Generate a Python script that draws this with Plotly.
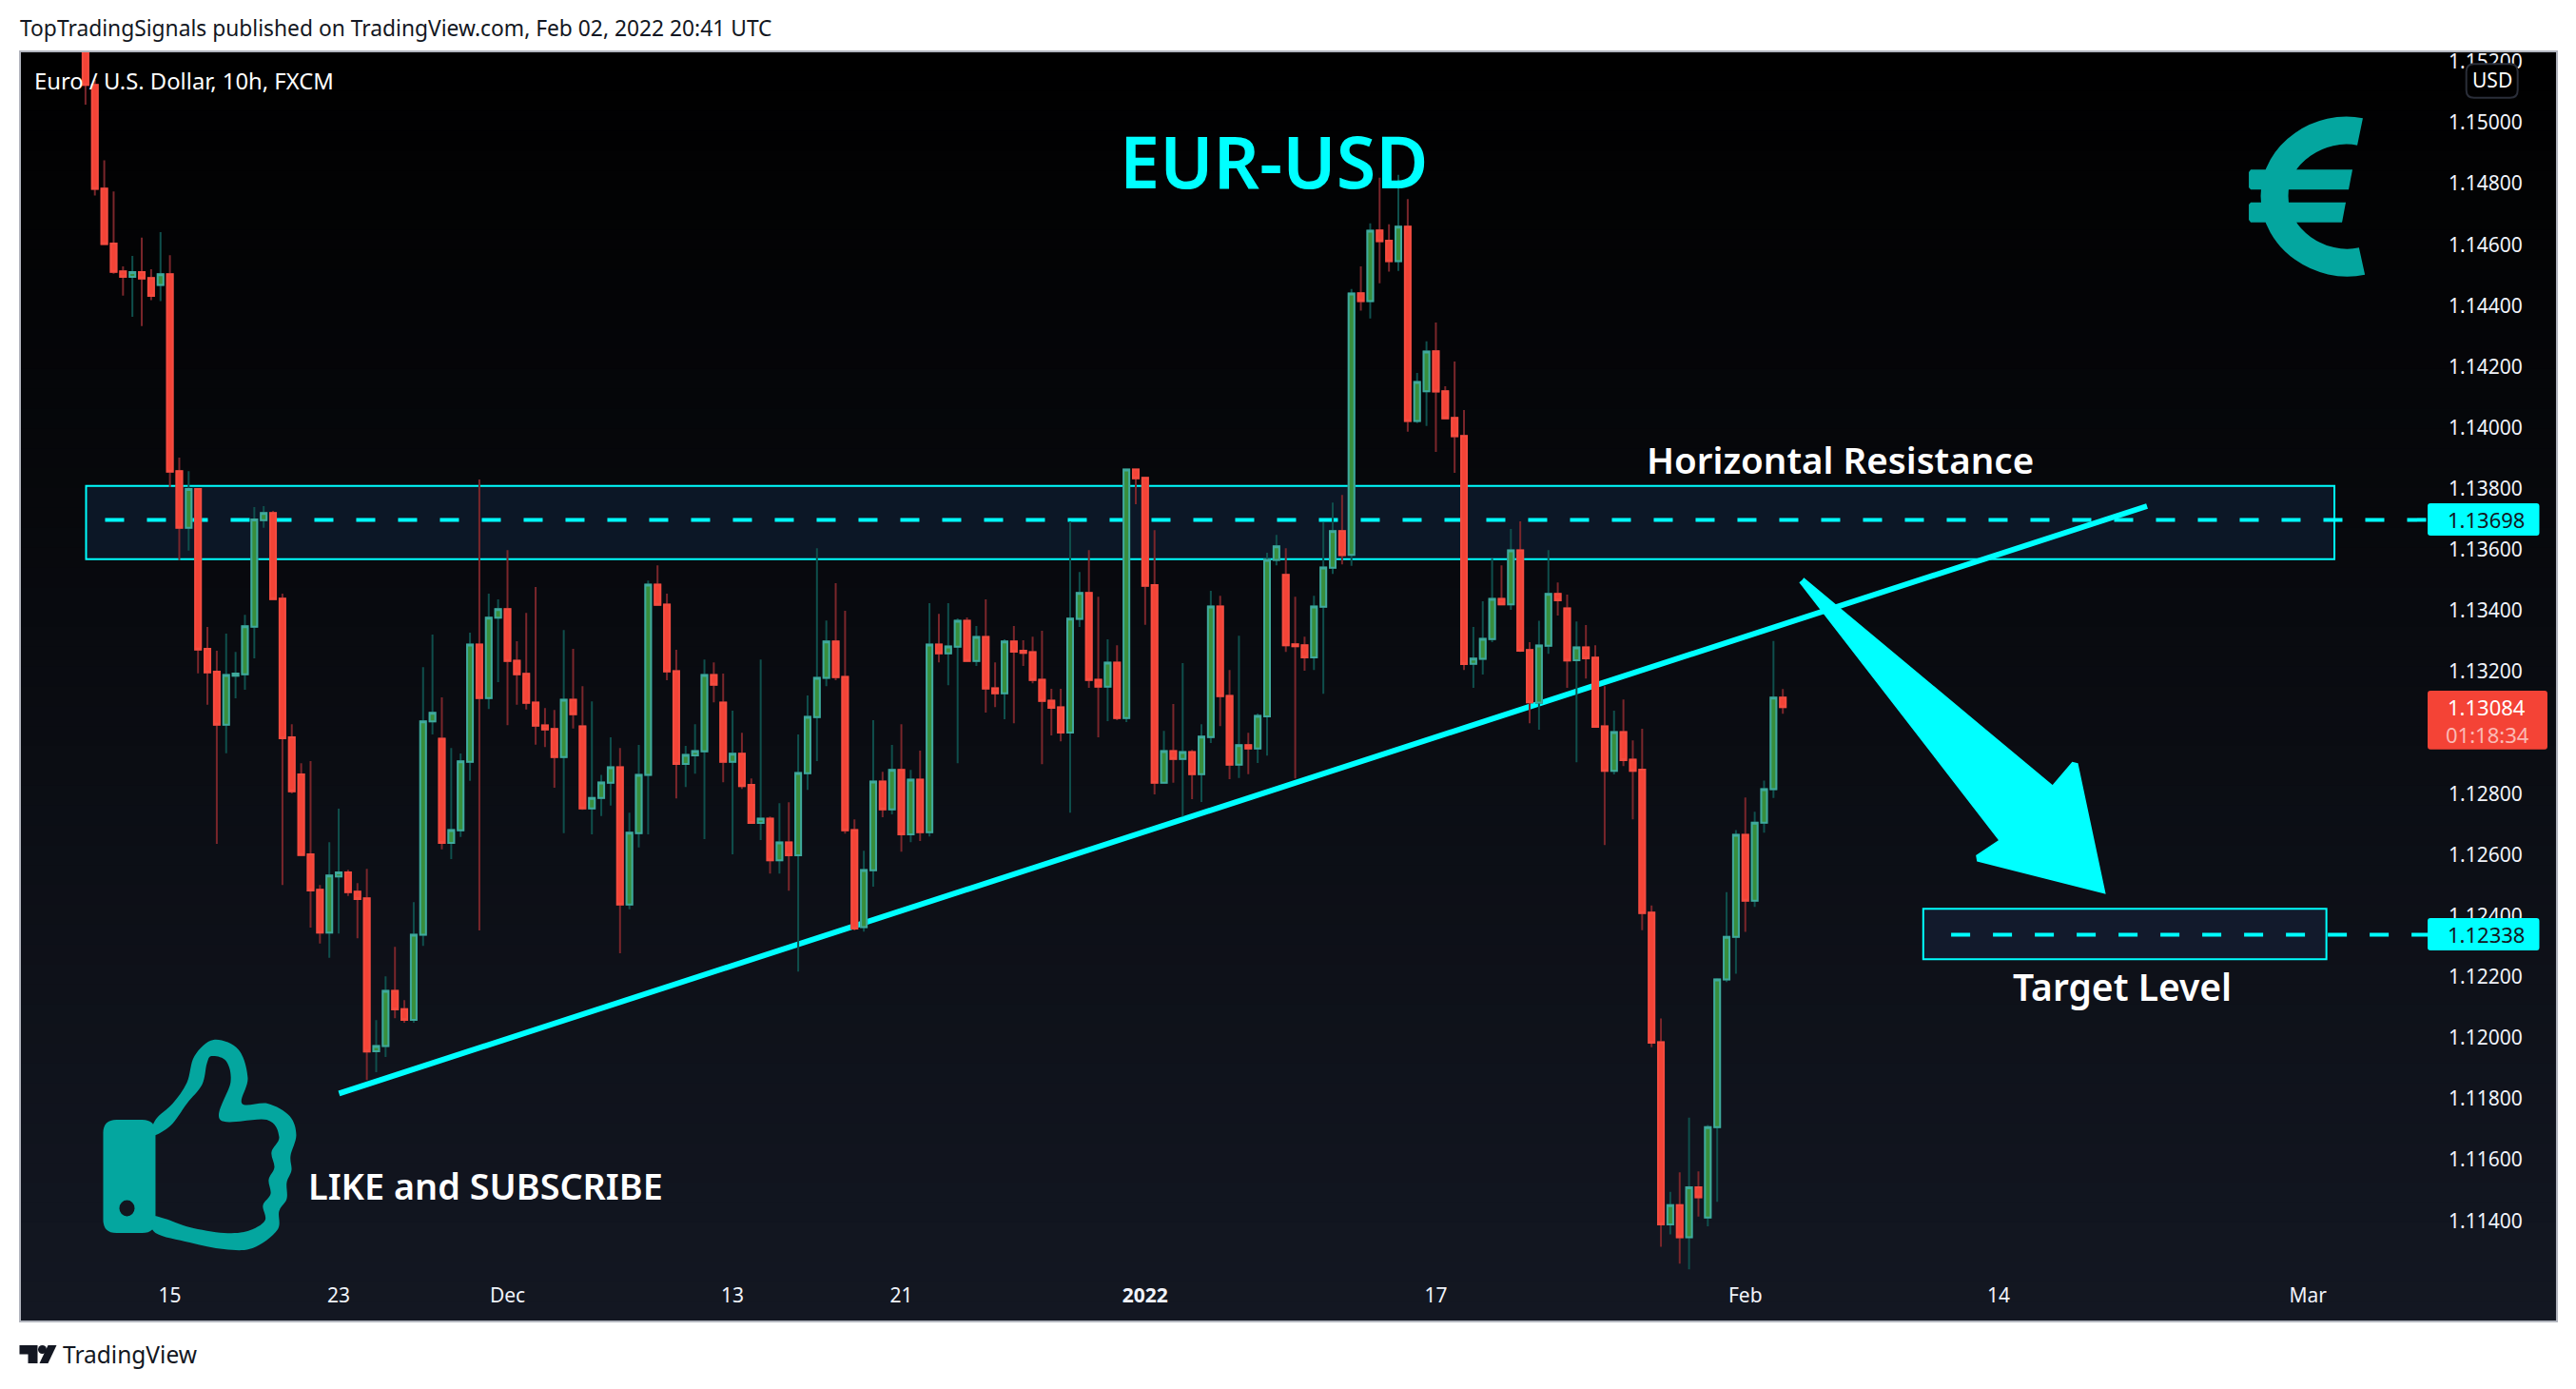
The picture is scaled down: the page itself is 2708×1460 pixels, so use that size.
import plotly.graph_objects as go

# ---- data ----
bar_open = [
1.15350,1.15124,1.14784,1.14604,1.14513,1.14495,1.14510,1.14491,1.14468,1.14503,
1.13858,1.13672,1.13799,1.13275,1.13200,1.13026,1.13187,1.13192,1.13348,1.13697,
1.13720,1.13440,1.12985,1.12863,1.12601,1.12485,1.12345,1.12529,1.12542,1.12479,
1.12457,1.11956,1.11973,1.12154,1.12094,1.12059,1.12338,1.13037,1.12980,1.12639,
1.12680,1.12905,1.13289,1.13114,1.13377,1.13405,1.13236,1.13193,1.13099,1.13024,
1.13012,1.12920,1.13108,1.13021,1.12752,1.12786,1.12836,1.12887,1.12437,1.12671,
1.12862,1.13486,1.13420,1.13202,1.12898,1.12926,1.12939,1.13189,1.13099,1.12905,
1.12931,1.12829,1.12704,1.12718,1.12582,1.12640,1.12598,1.12867,1.13051,1.13180,
1.13299,1.13183,1.12681,1.12363,1.12549,1.12840,1.12749,1.12878,1.12667,1.12846,
1.12674,1.13289,1.13260,1.13282,1.13367,1.13235,1.13314,1.13146,1.13129,1.13299,
1.13269,1.13264,1.13174,1.13105,1.13083,1.13001,1.13373,1.13458,1.13174,1.13151,
1.13230,1.13048,1.13863,1.13836,1.13484,1.12836,1.12940,1.12914,1.12937,1.12864,
1.12986,1.13414,1.13121,1.12895,1.12959,1.12948,1.13054,1.13567,1.13518,1.13290,
1.13287,1.13247,1.13413,1.13541,1.13661,1.13583,1.14441,1.14415,1.14647,1.14613,
1.14546,1.14659,1.14022,1.14120,1.14251,1.14120,1.14032,1.13973,1.13226,1.13242,
1.13307,1.13439,1.13421,1.13598,1.13271,1.13099,1.13285,1.13455,1.13408,1.13238,
1.13280,1.13246,1.13021,1.12875,1.13002,1.12912,1.12879,1.12410,1.11985,1.11388,
1.11451,1.11346,1.11510,1.11411,1.11707,1.12191,1.12331,1.12665,1.12449,1.12705,
1.12815,1.13115]
bar_close = [
1.15124,1.14783,1.14602,1.14511,1.14495,1.14510,1.14489,1.14432,1.14503,1.13856,
1.13672,1.13799,1.13273,1.13198,1.13026,1.13189,1.13194,1.13349,1.13699,1.13720,
1.13438,1.12982,1.12808,1.12599,1.12483,1.12345,1.12532,1.12542,1.12477,1.12455,
1.11955,1.11973,1.12154,1.12093,1.12059,1.12338,1.13037,1.13065,1.12639,1.12681,
1.12906,1.13289,1.13114,1.13377,1.13405,1.13235,1.13192,1.13098,1.13023,1.13011,
1.12920,1.13108,1.13061,1.12752,1.12786,1.12837,1.12887,1.12437,1.12672,1.12862,
1.13486,1.13419,1.13201,1.12898,1.12927,1.12940,1.13189,1.13157,1.12905,1.12931,
1.12825,1.12704,1.12718,1.12582,1.12640,1.12598,1.12868,1.13052,1.13180,1.13299,
1.13182,1.12680,1.12358,1.12550,1.12840,1.12749,1.12878,1.12667,1.12846,1.12674,
1.13289,1.13260,1.13283,1.13367,1.13235,1.13314,1.13145,1.13129,1.13299,1.13266,
1.13262,1.13173,1.13104,1.13082,1.13001,1.13374,1.13458,1.13173,1.13151,1.13230,
1.13048,1.13863,1.13834,1.13482,1.12836,1.12940,1.12914,1.12937,1.12864,1.12987,
1.13414,1.13120,1.12895,1.12959,1.12948,1.13055,1.13567,1.13611,1.13287,1.13284,
1.13247,1.13414,1.13542,1.13661,1.13582,1.14440,1.14415,1.14646,1.14612,1.14546,
1.14659,1.14022,1.14150,1.14250,1.14119,1.14031,1.13972,1.13225,1.13243,1.13308,
1.13439,1.13421,1.13598,1.13269,1.13100,1.13286,1.13455,1.13434,1.13237,1.13280,
1.13244,1.13019,1.12875,1.13002,1.12910,1.12875,1.12409,1.11984,1.11388,1.11451,
1.11346,1.11510,1.11477,1.11707,1.12191,1.12331,1.12665,1.12449,1.12705,1.12815,
1.13115,1.13084]
bar_high = [
1.15400,1.15140,1.14877,1.14775,1.14529,1.14563,1.14623,1.14520,1.14641,1.14566,
1.13902,1.13858,1.13801,1.13347,1.13269,1.13325,1.13265,1.13387,1.13740,1.13743,
1.13727,1.13456,1.13028,1.12900,1.12907,1.12501,1.12641,1.12751,1.12551,1.12507,
1.12554,1.12058,1.12201,1.12298,1.12123,1.12445,1.13215,1.13322,1.13116,1.12950,
1.12932,1.13328,1.13830,1.13456,1.13437,1.13599,1.13300,1.13393,1.13478,1.13081,
1.13075,1.13337,1.13275,1.13153,1.13103,1.12862,1.12985,1.12950,1.12738,1.12960,
1.13499,1.13549,1.13456,1.13272,1.12957,1.13028,1.13240,1.13231,1.13194,1.13072,
1.13000,1.12850,1.13240,1.12725,1.12769,1.12772,1.12994,1.13122,1.13605,1.13368,
1.13490,1.13400,1.12716,1.12613,1.13041,1.12872,1.12960,1.13028,1.12878,1.12941,
1.13425,1.13390,1.13425,1.13375,1.13378,1.13350,1.13437,1.13231,1.13306,1.13350,
1.13303,1.13315,1.13334,1.13144,1.13144,1.13693,1.13527,1.13599,1.13446,1.13306,
1.13287,1.13863,1.13863,1.13836,1.13664,1.13006,1.13094,1.13228,1.12944,1.13028,
1.13465,1.13449,1.13206,1.13318,1.13000,1.13063,1.13590,1.13649,1.13605,1.13446,
1.13315,1.13449,1.13690,1.13755,1.13780,1.14455,1.14529,1.14670,1.14820,1.14667,
1.14829,1.14750,1.14180,1.14283,1.14345,1.14136,1.14217,1.14058,1.13347,1.13431,
1.13571,1.13549,1.13668,1.13693,1.13297,1.13367,1.13599,1.13493,1.13453,1.13365,
1.13353,1.13287,1.13153,1.13072,1.13109,1.12975,1.13013,1.12434,1.12063,1.11495,
1.11559,1.11738,1.11562,1.11714,1.12195,1.12477,1.12681,1.12788,1.12741,1.12843,
1.13301,1.13143]
bar_low = [
1.15059,1.14761,1.14602,1.14505,1.14433,1.14364,1.14333,1.14418,1.14415,1.13805,
1.13566,1.13597,1.13195,1.13092,1.12636,1.12933,1.13113,1.13141,1.13244,1.13672,
1.13438,1.12501,1.12801,1.12599,1.12361,1.12309,1.12262,1.12342,1.12465,1.12326,
1.11861,1.11887,1.11937,1.12064,1.12049,1.12049,1.12301,1.12994,1.12618,1.12586,
1.12658,1.12842,1.12352,1.13078,1.13166,1.13025,1.13092,1.13076,1.12961,1.12953,
1.12820,1.12671,1.13014,1.12747,1.12667,1.12727,1.12761,1.12277,1.12421,1.12624,
1.12667,1.13416,1.13172,1.12785,1.12822,1.12866,1.12651,1.13100,1.12838,1.12601,
1.12816,1.12704,1.12648,1.12538,1.12538,1.12482,1.12217,1.12813,1.12907,1.13153,
1.13172,1.12669,1.12352,1.12348,1.12495,1.12723,1.12732,1.12610,1.12641,1.12645,
1.12660,1.13231,1.13156,1.12900,1.13235,1.13219,1.13066,1.13084,1.13044,1.13031,
1.13219,1.13162,1.12897,1.12991,1.12972,1.12738,1.13347,1.13147,1.12985,1.13038,
1.13041,1.13035,1.13749,1.13354,1.12798,1.12836,1.12836,1.12725,1.12782,1.12773,
1.12966,1.13022,1.12848,1.12852,1.12864,1.12901,1.12925,1.13549,1.13265,1.12850,
1.13203,1.13206,1.13128,1.13521,1.13552,1.13547,1.14384,1.14358,1.14474,1.14512,
1.14514,1.13987,1.14015,1.14006,1.13921,1.14031,1.13852,1.13206,1.13147,1.13191,
1.13297,1.13418,1.13403,1.13265,1.13031,1.13010,1.13259,1.13384,1.13147,1.12903,
1.13178,1.13016,1.12632,1.12863,1.12891,1.12716,1.12353,1.11969,1.11315,1.11355,
1.11259,1.11241,1.11414,1.11382,1.11462,1.12183,1.12210,1.12347,1.12429,1.12672,
1.12786,1.13062]
bar_index = list(range(len(bar_open)))

x_tick_index = [9, 27, 45, 69, 87, 113, 144, 177, 204, 237]
x_tick_text = ["15", "23", "Dec", "13", "21", "<b>2022</b>", "17", "Feb", "14", "Mar"]
y_tick_values = [1.114, 1.116, 1.118, 1.120, 1.122, 1.124, 1.126, 1.128, 1.132,
                 1.134, 1.136, 1.138, 1.140, 1.142, 1.144, 1.146, 1.148, 1.150, 1.152]
resistance_level = 1.13698
target_level = 1.12338
last_price = 1.13084

# ---- geometry of the page (pixels) ----
W, H = 2708, 1460
L, R, T, B = 20.5, 2552.0, 54.0, 1340.0
PL, PR, PT, PB = 20.5, 2688.0, 54.0, 1389.0
FONT = "Noto Sans"
CYAN = "#00ffff"
TEAL = "#04a69f"


def ix(x):
    return (x - 89.4) / 9.86


def py(y):
    return 1.15 - (y - 129) / 32060


def fx(x):
    return (x - L) / (R - L)


def fy(y):
    return (B - y) / (B - T)


def pt(x, y):
    return f"{fx(x):.5f},{fy(y):.5f}"


def poly(points):
    return "M" + " L".join(pt(x, y) for x, y in points) + " Z"


def round_rect(x0, y0, x1, y1, r):
    return (f"M{pt(x0 + r, y0)} L{pt(x1 - r, y0)} Q{pt(x1, y0)} {pt(x1, y0 + r)} "
            f"L{pt(x1, y1 - r)} Q{pt(x1, y1)} {pt(x1 - r, y1)} L{pt(x0 + r, y1)} "
            f"Q{pt(x0, y1)} {pt(x0, y1 - r)} L{pt(x0, y0 + r)} Q{pt(x0, y0)} {pt(x0 + r, y0)} Z")


def smooth(points):
    n = len(points)
    s = "M" + pt(*points[0])
    for i in range(n):
        p0, p1, p2, p3 = points[i - 1], points[i], points[(i + 1) % n], points[(i + 2) % n]
        c1 = (p1[0] + (p2[0] - p0[0]) / 6, p1[1] + (p2[1] - p0[1]) / 6)
        c2 = (p2[0] - (p3[0] - p1[0]) / 6, p2[1] - (p3[1] - p1[1]) / 6)
        s += f" C{pt(*c1)} {pt(*c2)} {pt(*p2)}"
    return s + " Z"


shapes = []


def paper_shape(path, fill="rgba(0,0,0,0)", line=None, width=0, layer="above"):
    shapes.append(dict(type="path", path=path, xref="paper", yref="paper", layer=layer,
                       fillcolor=fill, line=dict(color=line or "rgba(0,0,0,0)", width=width)))


# panel gradient
bands = 64
for k in range(bands):
    t = k / (bands - 1)
    col = f"rgb({round(19 * t)},{round(23 * t)},{round(34 * t)})"
    y0 = PT + (PB - PT) * k / bands
    y1 = PT + (PB - PT) * (k + 1) / bands + 1
    shapes.append(dict(type="rect", xref="paper", yref="paper", layer="below",
                       x0=fx(PL), x1=fx(PR), y0=fy(min(y1, PB)), y1=fy(y0),
                       fillcolor=col, line=dict(width=0)))

# drawings under the candles
shapes.append(dict(type="rect", xref="x", yref="y", layer="below",
                   x0=ix(90), x1=ix(2454), y0=py(587.7), y1=py(510.7),
                   fillcolor="#0c1726", line=dict(color=CYAN, width=2)))
shapes.append(dict(type="line", xref="x", yref="y", layer="below",
                   x0=ix(110), x1=ix(R), y0=resistance_level, y1=resistance_level,
                   line=dict(color=CYAN, width=4, dash="20px,24px")))
shapes.append(dict(type="rect", xref="x", yref="y", layer="below",
                   x0=ix(2021.7), x1=ix(2445.6), y0=py(1008.3), y1=py(955.3),
                   fillcolor="#121a2c", line=dict(color=CYAN, width=2)))
shapes.append(dict(type="line", xref="x", yref="y", layer="below",
                   x0=ix(2051), x1=ix(R), y0=target_level, y1=target_level,
                   line=dict(color=CYAN, width=4, dash="20px,24px")))
shapes.append(dict(type="line", xref="x", yref="y", layer="below",
                   x0=ix(356), x1=ix(2257), y0=py(1149.3), y1=py(532),
                   line=dict(color=CYAN, width=6)))

# euro icon
paper_shape(f"M{pt(2481, 138.5)} C{pt(2440, 130)} {pt(2391, 160)} {pt(2391, 206)} "
            f"C{pt(2391, 252)} {pt(2440, 284)} {pt(2483, 274.5)}", line=TEAL, width=29)
paper_shape(poly([(2366, 178.3), (2473, 178.3), (2469, 199.3), (2366, 199.3), (2364, 197), (2364, 181)]), fill=TEAL)
paper_shape(poly([(2366, 212.7), (2466, 212.7), (2462, 233.7), (2366, 233.7), (2364, 231), (2364, 215)]), fill=TEAL)

# thumb icon
thumb = [(163, 1177), (181, 1160), (196, 1138), (204, 1110), (224, 1093), (250, 1103), (260, 1133),
         (254, 1160), (281, 1160), (304, 1173), (311, 1193), (305, 1215), (306, 1230), (301, 1243),
         (301, 1260), (293, 1273), (291, 1293), (265, 1312), (235, 1313), (199, 1306), (163, 1296),
         (159, 1279), (173, 1281), (199, 1290), (235, 1296), (260, 1294), (278, 1283), (276, 1267),
         (284, 1255), (282, 1240), (288, 1227), (285, 1211), (293, 1195), (280, 1177), (231, 1177),
         (242, 1137), (237, 1115), (222, 1110), (217, 1118), (212, 1140), (196, 1160), (179, 1183),
         (159, 1194)]
paper_shape(smooth(thumb), fill=TEAL)
paper_shape(round_rect(108, 1177, 163, 1296, 14), fill=TEAL)
shapes.append(dict(type="circle", xref="paper", yref="paper", layer="above",
                   x0=fx(125), x1=fx(141), y0=fy(1278.5), y1=fy(1261.5),
                   fillcolor="#12161f", line=dict(width=0)))

# price labels
paper_shape(round_rect(2552, 529, 2669.5, 563, 3), fill=CYAN)
paper_shape(round_rect(2552, 965, 2669.5, 999, 3), fill=CYAN)
paper_shape(round_rect(2552, 726, 2678, 787.7, 3), fill="#f44336")
paper_shape(round_rect(2592.7, 67.3, 2646.7, 102.7, 8), fill="#000000", line="#2a2e39", width=2)

# panel frame
shapes.append(dict(type="rect", xref="paper", yref="paper", layer="above",
                   x0=fx(PL), x1=fx(PR), y0=fy(PB), y1=fy(PT),
                   fillcolor="rgba(0,0,0,0)", line=dict(color="#b2b5be", width=2)))

# TradingView mark
LOGO = "#131722"
paper_shape(poly([(20, 1414), (39, 1414), (39, 1433), (29, 1433), (29, 1423.5), (20, 1423.5)]), fill=LOGO)
paper_shape(poly([(50, 1414), (59, 1414), (50, 1433), (41, 1433)]), fill=LOGO)
shapes.append(dict(type="circle", xref="paper", yref="paper", layer="above",
                   x0=fx(39.5), x1=fx(48.5), y0=fy(1423), y1=fy(1414),
                   fillcolor=LOGO, line=dict(width=0)))

annotations = []


def note(text, x, y, size, color, anchor="center", weight=None):
    f = dict(family=FONT, size=size, color=color)
    if weight:
        f["weight"] = weight
    annotations.append(dict(text=text, x=fx(x), y=fy(y), xref="paper", yref="paper",
                            xanchor=anchor, yanchor="middle", showarrow=False, font=f,
                            borderpad=0, borderwidth=0))


note("TopTradingSignals published on TradingView.com, Feb 02, 2022 20:41 UTC", 20, 30, 22.8, "#131722", "left")
note("Euro / U.S. Dollar, 10h, FXCM", 36, 85, 23.8, "#ffffff", "left")
note("EUR-USD", 1339, 168, 75.5, CYAN, weight=600)
note("Horizontal Resistance", 1934, 483, 38.5, "#ffffff", weight=600)
note("Target Level", 2231, 1036, 39, "#ffffff", weight=600)
note("LIKE and SUBSCRIBE", 324, 1246, 37.8, "#ffffff", "left", weight=600)
note("USD", 2620, 84, 21, "#ffffff")
note(f"{resistance_level:.5f}", 2573, 546, 22, "#131722", "left")
note(f"{target_level:.5f}", 2573, 982, 22, "#131722", "left")
note(f"{last_price:.5f}", 2573, 743, 22, "#ffffff", "left")
note("01:18:34", 2571, 771.7, 22, "#fbb9b4", "left")
note("TradingView", 66, 1423, 24.5, "#131722", "left")

body_high = [max(o, c) for o, c in zip(bar_open, bar_close)]
body_low = [min(o, c) for o, c in zip(bar_open, bar_close)]

fig = go.Figure()
fig.add_trace(go.Candlestick(
    x=bar_index, open=bar_open, high=bar_high, low=bar_low, close=bar_close,
    increasing=dict(line=dict(color="#0f4f4c", width=2), fillcolor="rgba(0,0,0,0)"),
    decreasing=dict(line=dict(color="#7a262b", width=2), fillcolor="rgba(0,0,0,0)"),
    whiskerwidth=0, hoverinfo="skip", showlegend=False))
fig.add_trace(go.Candlestick(
    x=bar_index, open=bar_open, high=body_high, low=body_low, close=bar_close,
    increasing=dict(line=dict(color="#3fa99c", width=2), fillcolor="#388e3c"),
    decreasing=dict(line=dict(color="#f44c40", width=2), fillcolor="#f44336"),
    whiskerwidth=0, hoverinfo="skip", showlegend=False))

# big arrow
arrow_px = [(1894, 610), (2158, 830), (2181, 803), (2209, 935), (2079, 902), (2106, 884)]
fig.add_trace(go.Scatter(
    x=[ix(a) for a, _ in arrow_px] + [ix(arrow_px[0][0])],
    y=[py(b) for _, b in arrow_px] + [py(arrow_px[0][1])],
    mode="lines", fill="toself", fillcolor=CYAN, line=dict(color=CYAN, width=7),
    hoverinfo="skip", showlegend=False))

fig.update_layout(
    width=W, height=H, autosize=False,
    margin=dict(l=L, r=W - R, t=T, b=H - B, pad=0),
    paper_bgcolor="#ffffff", plot_bgcolor="rgba(0,0,0,0)",
    boxgap=0.39, boxgroupgap=0, boxmode="overlay",
    shapes=shapes, annotations=annotations, showlegend=False,
    xaxis=dict(range=[ix(L), ix(R)], rangeslider=dict(visible=False), showgrid=False,
               zeroline=False, showline=False, ticks="", tickmode="array",
               tickvals=x_tick_index, ticktext=x_tick_text, ticklabelstandoff=7,
               tickfont=dict(family=FONT, size=21, color="#f0f3fa")),
    yaxis=dict(range=[py(B), py(T)], side="right", showgrid=False, zeroline=False,
               showline=False, ticks="", tickmode="array", tickvals=y_tick_values,
               ticktext=[f"{v:.5f}" for v in y_tick_values], ticklabelstandoff=21,
               tickfont=dict(family=FONT, size=21, color="#f0f3fa")),
)

fig.write_html("out.html", config=dict(displayModeBar=False),
               post_script="document.body.style.margin='0';document.body.style.overflow='hidden';")
